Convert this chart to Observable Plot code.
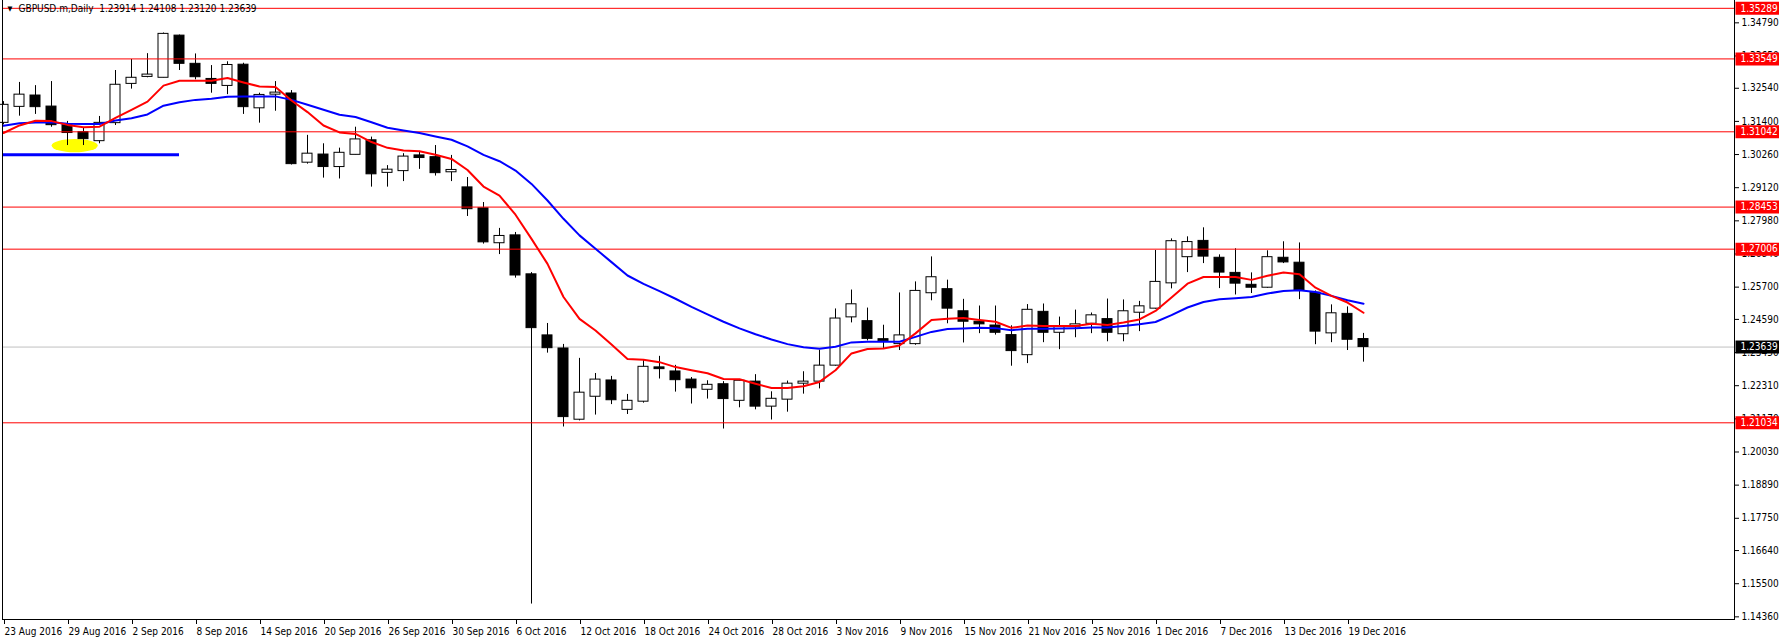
<!DOCTYPE html>
<html>
<head>
<meta charset="utf-8">
<script src="https://cdn.jsdelivr.net/npm/d3@7"></script>
<script src="https://cdn.jsdelivr.net/npm/@observablehq/plot@0.6"></script>
<style>
  html, body { margin: 0; padding: 0; background: #fff; }
  svg { display: block; }
</style>
</head>
<body>
<div id="chart"></div>
<script>
// ---- Data (GBPUSD.m, Daily) ----
const symbolName = "GBPUSD.m";
const timeframe = "Daily";

const open = [1.3135,1.3190,1.3229,1.3191,1.3127,1.3103,1.3072,1.3134,1.3269,1.3293,
  1.3290,1.3435,1.3338,1.3286,1.3262,1.3335,1.3185,1.3232,1.3236,1.2998,
  1.3026,1.2983,1.3025,1.3075,1.2963,1.2969,1.3023,1.3017,1.2965,1.2913,
  1.2841,1.2721,1.2748,1.2614,1.2404,1.2359,1.2114,1.2193,1.2249,1.2148,
  1.2176,1.2294,1.2280,1.2252,1.2217,1.2236,1.2179,1.2245,1.2159,1.2183,
  1.2238,1.2245,1.2300,1.2466,1.2453,1.2391,1.2374,1.2374,1.2549,1.2563,
  1.2487,1.2451,1.2438,1.2405,1.2336,1.2485,1.2413,1.2434,1.2444,1.2460,
  1.2408,1.2482,1.2496,1.2583,1.2673,1.2729,1.2671,1.2619,1.2578,1.2568,
  1.2671,1.2654,1.2551,1.2411,1.2478,1.23914];
const high = [1.3208,1.3274,1.3263,1.3277,1.3140,1.3118,1.3157,1.3315,1.3353,1.3373,
  1.3444,1.3437,1.3372,1.3332,1.3345,1.3340,1.3237,1.3277,1.3246,1.3092,
  1.3063,1.3048,1.3120,1.3086,1.2988,1.3029,1.3037,1.3057,1.3023,1.2947,
  1.2861,1.2772,1.2758,1.2620,1.2445,1.2373,1.2325,1.2273,1.2263,1.2201,
  1.2321,1.2332,1.2301,1.2259,1.2248,1.2245,1.2250,1.2269,1.2210,1.2247,
  1.2279,1.2353,1.2495,1.2560,1.2498,1.2439,1.2550,1.2588,1.2674,1.2594,
  1.2528,1.2505,1.2505,1.2437,1.2510,1.2512,1.2467,1.2491,1.2481,1.2529,
  1.2526,1.2521,1.2696,1.2736,1.2743,1.2774,1.2681,1.2702,1.2619,1.2695,
  1.2726,1.2722,1.2557,1.2509,1.2502,1.24108];
const low = [1.3128,1.3158,1.3164,1.3120,1.3057,1.3057,1.3063,1.3126,1.3251,1.3290,
  1.3290,1.3315,1.3283,1.3237,1.3232,1.3164,1.3134,1.3175,1.2990,1.2993,
  1.2945,1.2942,1.3025,1.2914,1.2914,1.2933,1.2975,1.2952,1.2933,1.2813,
  1.2718,1.2682,1.2601,1.1480,1.2343,1.2089,1.2110,1.2130,1.2166,1.2132,
  1.2171,1.2254,1.2209,1.2168,1.2185,1.2082,1.2155,1.2148,1.2113,1.2140,
  1.2202,1.2220,1.2298,1.2447,1.2385,1.2359,1.2352,1.2370,1.2523,1.2444,
  1.2378,1.2410,1.2405,1.2298,1.2307,1.2379,1.2355,1.2396,1.2410,1.2382,
  1.2382,1.2417,1.2494,1.2564,1.2620,1.2651,1.2565,1.2543,1.2548,1.2566,
  1.2651,1.2527,1.2372,1.2379,1.2352,1.23120];
const close = [1.3197,1.3232,1.3189,1.3127,1.3100,1.3079,1.3135,1.3266,1.3290,1.3301,
  1.3441,1.3338,1.3292,1.3269,1.3334,1.3189,1.3231,1.3239,1.2993,1.3029,
  1.2983,1.3032,1.3078,1.2958,1.2974,1.3019,1.3014,1.2962,1.2973,1.2838,
  1.2724,1.2746,1.2610,1.2429,1.2360,1.2123,1.2207,1.2252,1.2181,1.2179,
  1.2296,1.2288,1.2250,1.2222,1.2234,1.2185,1.2248,1.2159,1.2186,1.2238,
  1.2245,1.2300,1.2462,1.2511,1.2392,1.2384,1.2404,1.2557,1.2604,1.2496,
  1.2451,1.2442,1.2413,1.2350,1.2492,1.2413,1.2436,1.2442,1.2473,1.2413,
  1.2487,1.2504,1.2588,1.2728,1.2725,1.2675,1.2620,1.2582,1.2568,1.2673,
  1.2655,1.2557,1.2417,1.2480,1.2389,1.23639];

// moving averages as drawn (red = fast, blue = slow)
const maFast = [1.3100,1.3126,1.3142,1.3141,1.3128,1.3120,1.3122,1.3152,1.3180,1.3208,
  1.3263,1.3280,1.3280,1.3280,1.3289,1.3274,1.3260,1.3258,1.3212,1.3172,
  1.3126,1.3102,1.3097,1.3069,1.3049,1.3040,1.3037,1.3025,1.3011,1.2973,
  1.2916,1.2885,1.2819,1.2736,1.2650,1.2536,1.2461,1.2421,1.2373,1.2323,
  1.2320,1.2312,1.2295,1.2284,1.2274,1.2254,1.2253,1.2238,1.2223,1.2223,
  1.2229,1.2244,1.2284,1.2342,1.2357,1.2359,1.2369,1.2411,1.2457,1.2461,
  1.2464,1.2457,1.2451,1.2430,1.2438,1.2436,1.2436,1.2436,1.2444,1.2440,
  1.2448,1.2459,1.2488,1.2534,1.2582,1.2605,1.2605,1.2605,1.2595,1.2609,
  1.2620,1.2614,1.2568,1.2540,1.2517,1.2482];
const maSlow = [1.3125,1.3134,1.3136,1.3137,1.3132,1.3131,1.3131,1.3143,1.3151,1.3164,
  1.3194,1.3206,1.3214,1.3218,1.3225,1.3226,1.3226,1.3226,1.3214,1.3197,
  1.3180,1.3163,1.3155,1.3137,1.3118,1.3109,1.3100,1.3088,1.3077,1.3054,
  1.3025,1.3003,1.2971,1.2925,1.2868,1.2805,1.2748,1.2702,1.2656,1.2610,
  1.2581,1.2556,1.2530,1.2502,1.2476,1.2451,1.2428,1.2408,1.2390,1.2374,
  1.2363,1.2358,1.2365,1.2380,1.2382,1.2382,1.2382,1.2399,1.2416,1.2426,
  1.2428,1.2430,1.2429,1.2422,1.2427,1.2427,1.2428,1.2429,1.2431,1.2431,
  1.2436,1.2442,1.2450,1.2474,1.2500,1.2519,1.2528,1.2532,1.2536,1.2548,
  1.2557,1.2559,1.2553,1.2540,1.2525,1.2513];

// horizontal levels (red) and bid line
const levels = [1.35289, 1.33549, 1.31042, 1.28453, 1.27006, 1.21034];
const bidPrice = 1.23639;

// price-axis tick labels
const yTicks = [1.34790,1.33650,1.32540,1.31400,1.30260,1.29120,1.27980,1.26840,1.25700,
  1.24590,1.23450,1.22310,1.21170,1.20030,1.18890,1.17750,1.16640,1.15500,1.14360];

// date-axis tick labels (every 4th bar)
const tickLabels = ["23 Aug 2016","29 Aug 2016","2 Sep 2016","8 Sep 2016","14 Sep 2016",
  "20 Sep 2016","26 Sep 2016","30 Sep 2016","6 Oct 2016","12 Oct 2016","18 Oct 2016",
  "24 Oct 2016","28 Oct 2016","3 Nov 2016","9 Nov 2016","15 Nov 2016","21 Nov 2016",
  "25 Nov 2016","1 Dec 2016","7 Dec 2016","13 Dec 2016","19 Dec 2016"];
const tickBars = tickLabels.map((_, k) => k * 4);

// drawn objects: blue trend line (bar from, bar to, price) and yellow ellipse
const trendLine = [{from: 0, to: 11, price: 1.3025}];
const ellipse = [{x1: 3.04, x2: 5.92, y1: 1.3032, y2: 1.3078}];

// ---- Build ----
const candles = open.map((o, i) => ({i, o, h: high[i], l: low[i], c: close[i]}));
const fastPts = maFast.map((v, i) => ({i, v}));
const slowPts = maSlow.map((v, i) => ({i, v}));
const last = candles[candles.length - 1];
const titleText = `${symbolName},${timeframe}\u00a0\u00a0${[last.o, last.h, last.l, last.c].map(d => d.toFixed(5)).join(" ")}`;

const FONT = "'DejaVu Sans Condensed', 'DejaVu Sans', sans-serif";

const boxSymbol = {
  draw(ctx) {
    ctx.moveTo(0, -6.5); ctx.lineTo(46, -6.5); ctx.lineTo(46, 6.5); ctx.lineTo(0, 6.5); ctx.closePath();
  }
};

const chart = Plot.plot({
  width: 1779,
  height: 640,
  marginLeft: 2,
  marginRight: 45,
  marginTop: 0,
  marginBottom: 21,
  x: {type: "linear", domain: [-0.0625, 108.1875], axis: null},
  y: {type: "linear", domain: [1.14269, 1.35558], axis: null},
  style: {fontFamily: FONT, fontSize: "10px", background: "#fff", color: "#000"},
  marks: [
    Plot.ruleY([bidPrice], {stroke: "#c0c0c0", strokeWidth: 1}),
    Plot.rect(ellipse, {x1: "x1", x2: "x2", y1: "y1", y2: "y2", fill: "#ffff00", rx: 1000, ry: 1000}),
    Plot.ruleY(trendLine, {y: "price", x1: "from", x2: "to", stroke: "#0000ff", strokeWidth: 3}),
    Plot.ruleX(candles, {x: "i", y1: "l", y2: "h", stroke: "#000", strokeWidth: 1}),
    Plot.rect(candles, {
      x1: d => d.i - 0.5, x2: d => d.i + 0.5, insetLeft: 3, insetRight: 3,
      y1: "o", y2: "c",
      fill: d => d.c >= d.o ? "#fff" : "#000",
      stroke: "#000", strokeWidth: 1
    }),
    Plot.ruleY(levels, {stroke: "#ff0000", strokeWidth: 1}),
    Plot.line(slowPts, {x: "i", y: "v", stroke: "#0000ff", strokeWidth: 2}),
    Plot.line(fastPts, {x: "i", y: "v", stroke: "#ff0000", strokeWidth: 2}),
    Plot.frame({anchor: "left", stroke: "#000"}),
    Plot.frame({anchor: "bottom", stroke: "#000"}),
    Plot.frame({anchor: "right", stroke: "#000"}),
    Plot.axisX({ticks: tickBars, tickFormat: i => tickLabels[i / 4], anchor: "bottom",
      tickSize: 5, tickPadding: 3, textAnchor: "start", dx: 1, label: null, fontSize: 10, fill: "#000"}),
    Plot.axisY({ticks: yTicks, tickFormat: d => d.toFixed(5), anchor: "right",
      tickSize: 4, tickPadding: 3, label: null, fontSize: 10, fill: "#000"}),
    Plot.dot(levels, {y: d => d, frameAnchor: "right", dx: 1, symbol: boxSymbol, fill: "#ff0000", stroke: null, r: 3}),
    Plot.text(levels, {y: d => d, frameAnchor: "right", dx: 6, text: d => d.toFixed(5), textAnchor: "start", fill: "#fff", fontSize: 10}),
    Plot.dot([bidPrice], {y: d => d, frameAnchor: "right", dx: 1, symbol: boxSymbol, fill: "#000", stroke: null, r: 3}),
    Plot.text([bidPrice], {y: d => d, frameAnchor: "right", dx: 6, text: d => d.toFixed(5), textAnchor: "start", fill: "#fff", fontSize: 10}),
    Plot.text(["\u25bc"], {frameAnchor: "top-left", dx: 5, dy: 6, fontSize: 7, textAnchor: "start", lineAnchor: "top", fill: "#000"}),
    Plot.text([titleText], {frameAnchor: "top-left", dx: 16, dy: 4, fontSize: 10, textAnchor: "start", lineAnchor: "top", fill: "#000"})
  ]
});
document.getElementById("chart").appendChild(chart);
</script>
</body>
</html>
